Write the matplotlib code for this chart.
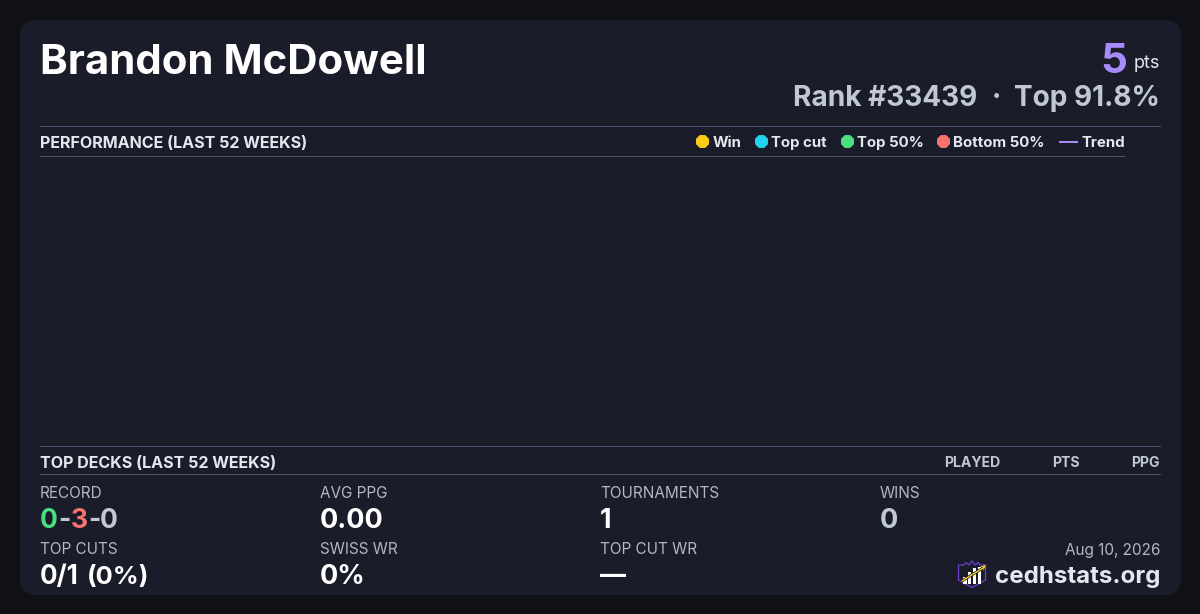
import numpy as np
import matplotlib
matplotlib.use('Agg')
import matplotlib.pyplot as plt
from matplotlib.patches import FancyBboxPatch, Polygon, RegularPolygon, Rectangle

player = 'Brandon McDowell'
points = '5'
rank_text = 'Rank #33439'
top_text = 'Top 91.8%'

legend_labels = ['Win', 'Top cut', 'Top 50%', 'Bottom 50%']
legend_colors = ['#facc15', '#22d3ee', '#4ade80', '#f87171']
deck_columns = ['PLAYED', 'PTS', 'PPG']

stat_labels_top = ['RECORD', 'AVG PPG', 'TOURNAMENTS', 'WINS']
stat_values_top = ['0-3-0', '0.00', '1', '0']
stat_labels_bottom = ['TOP CUTS', 'SWISS WR', 'TOP CUT WR']
stat_values_bottom = ['0/1', '0%', '—']
top_cut_pct = '(0%)'
date_text = 'Aug 10, 2026'
site = 'cedhstats.org'

plt.rcParams['font.family'] = ['Inter', 'DejaVu Sans']

fig = plt.figure(figsize=(12, 6.14), dpi=100, facecolor='#0f1117')
ax = fig.add_axes([0, 0, 1, 1])
ax.set_xlim(0, 1200)
ax.set_ylim(614, 0)
ax.axis('off')

WHITE = '#ffffff'
LIGHT = '#e2e8f0'
GREY = '#c0c8d6'
MUTED = '#b0b8c6'
RULE = '#46536e'
CARD = '#1a1d29'


def px(size):
    return size * 0.72


def label(x, y, s, size, color, weight='normal', ha='left'):
    return ax.text(x, y, s, fontsize=px(size), color=color, fontweight=weight,
                   ha=ha, va='baseline')


def rule(x0, x1, y):
    # one pixel row, filled so it does not get snapped to the next row
    ax.add_patch(Rectangle((x0, y), x1 - x0, 1, facecolor=RULE, edgecolor='none'))


# card
ax.add_patch(FancyBboxPatch((20, 20), 1161, 575,
                            boxstyle='round,pad=0,rounding_size=16',
                            facecolor=CARD, edgecolor='none'))

# header
label(40, 74, player, 42, WHITE, 'bold')
label(1160, 68, 'pts', 18, LIGHT, ha='right')
label(1127, 73, points, 42, '#a78bfa', 'bold', ha='right')
label(1160, 106, top_text, 28, GREY, 'bold', ha='right')
label(996, 106, '·', 28, GREY, 'bold', ha='center')
label(977, 106, rank_text, 28, GREY, 'bold', ha='right')

# performance section
rule(40, 1161, 126)
rule(40, 1125, 156)
label(40, 148, 'PERFORMANCE (LAST 52 WEEKS)', 16.05, LIGHT, 'bold')

dot_x = [702.5, 761.5, 847.5, 943.5]
text_x = [712.5, 771, 857, 953]
for cx, tx, name, col in zip(dot_x, text_x, legend_labels, legend_colors):
    ax.add_patch(RegularPolygon((cx, 141.5), 8, radius=7, orientation=np.pi / 8,
                                facecolor=col, edgecolor='none'))
    label(tx, 147, name, 15, LIGHT, 'bold')
ax.add_patch(Rectangle((1059, 141), 19, 1.5, facecolor='#a78bfa', edgecolor='none'))
label(1081, 147, 'Trend', 15, LIGHT, 'bold')

# top decks section
rule(40, 1161, 446)
rule(40, 1161, 474)
label(40, 468, 'TOP DECKS (LAST 52 WEEKS)', 16.05, LIGHT, 'bold')
for x, name in zip([1000, 1080, 1160], deck_columns):
    label(x, 467, name, 14, GREY, 'bold', ha='right')

# stats
col_x = [40, 320, 600, 880]
for x, name in zip(col_x, stat_labels_top):
    label(x, 498, name, 15.3, MUTED)
for x, name in zip(col_x, stat_labels_bottom):
    label(x, 554, name, 15.3, MUTED)

record = stat_values_top[0].split('-')
rec_colors = ['#4ade80', '#f87171', GREY]
rec_x = [40, 70.5, 99.5]
for x, s, col in zip(rec_x, record, rec_colors):
    label(x, 528, s, 26.5, col, 'bold')
for x in [58.5, 88]:
    label(x, 528, '-', 26.5, GREY, 'bold')

label(col_x[1], 528, stat_values_top[1], 27, WHITE, 'bold')
label(col_x[2], 528, stat_values_top[2], 27, WHITE, 'bold')
label(col_x[3], 528, stat_values_top[3], 27, GREY, 'bold')
label(col_x[0], 584, stat_values_bottom[0], 26, WHITE, 'bold')
label(col_x[1], 584, stat_values_bottom[1], 27, WHITE, 'bold')
label(col_x[2], 584, stat_values_bottom[2], 26, WHITE, 'bold')
label(86.5, 584, top_cut_pct, 25.5, WHITE, 'bold')

# footer
label(1160.5, 555, date_text, 15.3, MUTED, ha='right')
label(1160, 583, site, 24.1, LIGHT, 'bold', ha='right')

# logo
shield = [(958.5, 565), (964, 565), (966, 562.5), (969, 565), (972, 561), (975, 565),
          (978, 562.5), (980, 565), (985.5, 565), (985.5, 580), (972, 587.5), (958.5, 580)]
ax.add_patch(Polygon(shield, closed=True, facecolor=CARD, edgecolor='#6d3fd0', lw=0.9))
for bx, top in zip([965, 969.5, 974.5, 979.5], [577, 572, 568, 567]):
    ax.add_patch(Rectangle((bx - 1.8, top), 3.6, 583.5 - top, facecolor=WHITE, edgecolor='none'))
ax.plot([962, 983], [581, 568], color=CARD, lw=2.0, solid_capstyle='butt')
ax.plot([962, 983], [581, 568], color='#facc15', lw=1.0, solid_capstyle='butt')
ax.add_patch(Polygon([(986, 565), (980.5, 566.5), (983.5, 570.5)], closed=True,
                     facecolor='#facc15', edgecolor='none'))

fig.savefig('out.png', dpi=100, facecolor=fig.get_facecolor())
